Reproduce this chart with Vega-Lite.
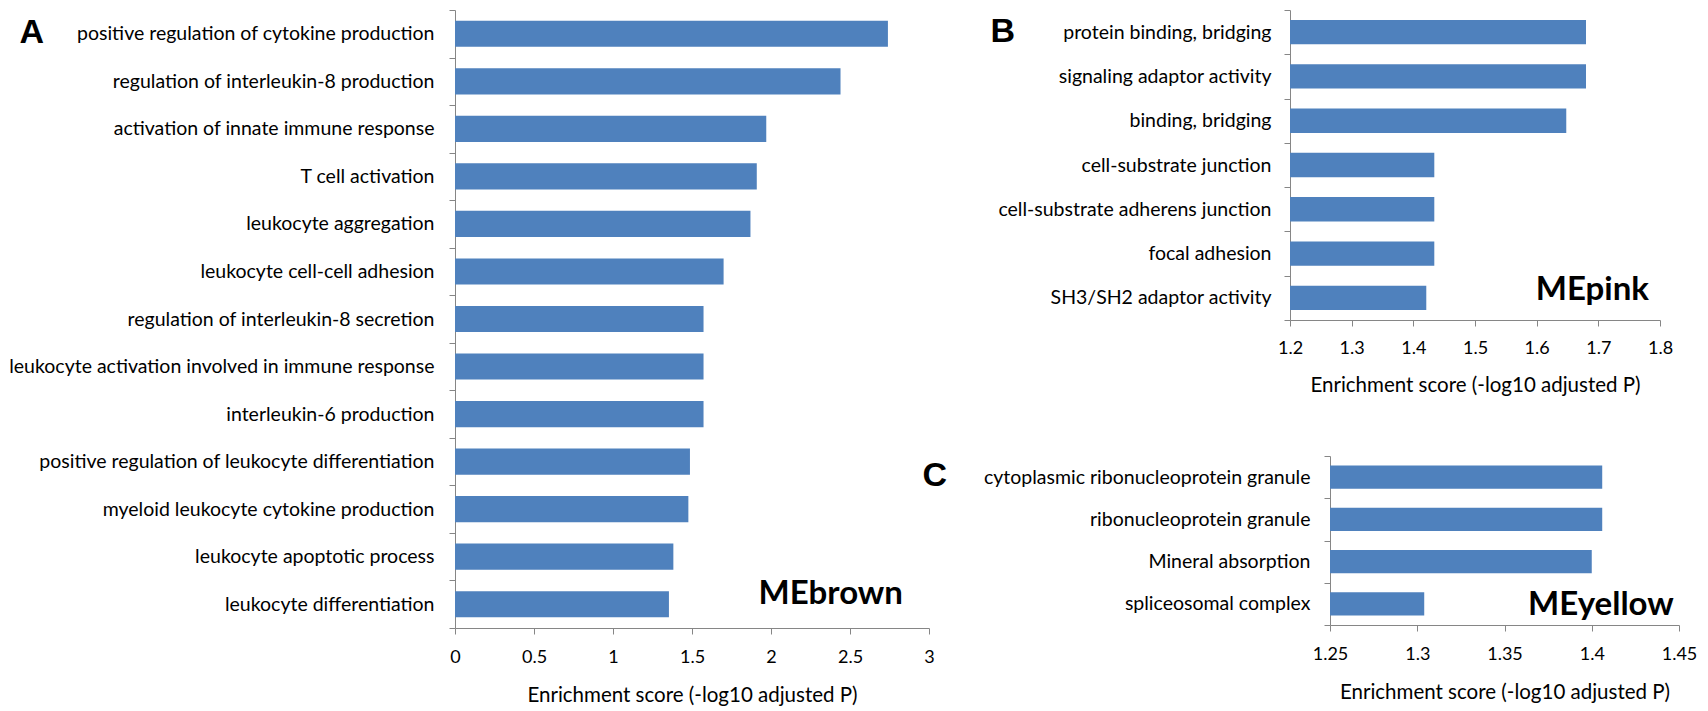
{
  "$schema": "https://vega.github.io/schema/vega-lite/v6.json",
  "padding": {"left": 8, "top": 0, "right": 0, "bottom": 0},
  "background": "white",
  "config": {
    "view": {"stroke": null},
    "axis": {
      "domainColor": "#868686", "tickColor": "#868686", "domainWidth": 1, "tickWidth": 1, "tickSize": 6,
      "labelColor": "#000000", "labelFont": "Lato", "labelFontSize": 18, "labelLimit": 700,
      "titleColor": "#000000", "titleFont": "Lato", "titleFontSize": 20.5, "titleFontWeight": "normal",
      "grid": false
    },
    "axisY": {"labelFontSize": 19.5}
  },
  "datasets": {
    "A": [
      {"term": "positive regulation of cytokine production", "score": 2.74},
      {"term": "regulation of interleukin-8 production", "score": 2.44},
      {"term": "activation of innate immune response", "score": 1.97},
      {"term": "T cell activation", "score": 1.91},
      {"term": "leukocyte aggregation", "score": 1.87},
      {"term": "leukocyte cell-cell adhesion", "score": 1.70},
      {"term": "regulation of interleukin-8 secretion", "score": 1.573},
      {"term": "leukocyte activation involved in immune response", "score": 1.573},
      {"term": "interleukin-6 production", "score": 1.573},
      {"term": "positive regulation of leukocyte differentiation", "score": 1.487},
      {"term": "myeloid leukocyte cytokine production", "score": 1.477},
      {"term": "leukocyte apoptotic process", "score": 1.382},
      {"term": "leukocyte differentiation", "score": 1.354}
    ],
    "B": [
      {"term": "protein binding, bridging", "score": 1.68},
      {"term": "signaling adaptor activity", "score": 1.68},
      {"term": "binding, bridging", "score": 1.648},
      {"term": "cell-substrate junction", "score": 1.434},
      {"term": "cell-substrate adherens junction", "score": 1.434},
      {"term": "focal adhesion", "score": 1.434},
      {"term": "SH3/SH2 adaptor activity", "score": 1.421}
    ],
    "C": [
      {"term": "cytoplasmic ribonucleoprotein granule", "score": 1.406},
      {"term": "ribonucleoprotein granule", "score": 1.406},
      {"term": "Mineral absorption", "score": 1.400},
      {"term": "spliceosomal complex", "score": 1.304}
    ]
  },
  "spacing": -13,
  "hconcat": [
    {
      "width": 474,
      "height": 618,
      "layer": [
        {
          "data": {"name": "A"},
          "mark": {"type": "bar", "color": "#4f81bd", "height": {"band": 0.55}},
          "encoding": {
            "y": {
              "field": "term", "type": "nominal", "sort": null,
              "scale": {"paddingInner": 0, "paddingOuter": 0, "domain": [
                "positive regulation of cytokine production", "regulation of interleukin-8 production",
                "activation of innate immune response", "T cell activation", "leukocyte aggregation",
                "leukocyte cell-cell adhesion", "regulation of interleukin-8 secretion",
                "leukocyte activation involved in immune response", "interleukin-6 production",
                "positive regulation of leukocyte differentiation", "myeloid leukocyte cytokine production",
                "leukocyte apoptotic process", "leukocyte differentiation"]},
              "axis": {
                "title": "A", "titleAngle": 0, "titleAlign": "left", "titleBaseline": "alphabetic",
                "titleX": -436, "titleY": 32, "titleFont": "Liberation Sans", "titleFontSize": 34, "titleFontWeight": "bold",
                "tickBand": "extent", "labelPadding": 15
              }
            },
            "x": {
              "field": "score", "type": "quantitative",
              "scale": {"domain": [0, 3], "nice": false, "zero": false},
              "axis": {"title": "Enrichment score (-log10 adjusted P)", "values": [0, 0.5, 1, 1.5, 2, 2.5, 3], "format": "~g", "labelPadding": 14, "titlePadding": 19, "labelFlush": false}
            },
            "x2": {"datum": 0}
          }
        },
        {
          "data": {"values": [{"module": "MEbrown"}]},
          "mark": {"type": "text", "align": "right", "baseline": "alphabetic", "font": "Lato", "fontSize": 33, "fontWeight": "bold", "color": "#000000"},
          "encoding": {
            "text": {"field": "module"},
            "x": {"datum": 2.835},
            "y": {"datum": "leukocyte differentiation"}
          }
        }
      ]
    },
    {
      "spacing": 50,
      "vconcat": [
        {
          "width": 370,
          "height": 310,
          "layer": [
            {
              "data": {"name": "B"},
              "mark": {"type": "bar", "color": "#4f81bd", "height": {"band": 0.55}},
              "encoding": {
                "y": {
                  "field": "term", "type": "nominal", "sort": null,
                  "scale": {"paddingInner": 0, "paddingOuter": 0, "domain": [
                    "protein binding, bridging", "signaling adaptor activity", "binding, bridging",
                    "cell-substrate junction", "cell-substrate adherens junction", "focal adhesion",
                    "SH3/SH2 adaptor activity"]},
                  "axis": {
                    "title": "B", "titleAngle": 0, "titleAlign": "left", "titleBaseline": "alphabetic",
                    "titleX": -300, "titleY": 31, "titleFont": "Liberation Sans", "titleFontSize": 34, "titleFontWeight": "bold",
                    "tickBand": "extent", "labelPadding": 13
                  }
                },
                "x": {
                  "field": "score", "type": "quantitative",
                  "scale": {"domain": [1.2, 1.8], "nice": false, "zero": false},
                  "axis": {"title": "Enrichment score (-log10 adjusted P)", "values": [1.2, 1.3, 1.4, 1.5, 1.6, 1.7, 1.8], "format": "~g", "labelPadding": 13, "titlePadding": 18, "labelFlush": false}
                },
                "x2": {"datum": 1.2}
              }
            },
            {
              "data": {"values": [{"module": "MEpink"}]},
              "mark": {"type": "text", "align": "right", "baseline": "alphabetic", "dy": 2, "font": "Lato", "fontSize": 33, "fontWeight": "bold", "color": "#000000"},
              "encoding": {
                "text": {"field": "module"},
                "x": {"datum": 1.782},
                "y": {"datum": "SH3/SH2 adaptor activity"}
              }
            }
          ]
        },
        {
          "width": 389,
          "height": 169,
          "layer": [
            {
              "data": {"name": "C"},
              "mark": {"type": "bar", "color": "#4f81bd", "height": {"band": 0.55}},
              "encoding": {
                "y": {
                  "field": "term", "type": "nominal", "sort": null,
                  "scale": {"paddingInner": 0, "paddingOuter": 0, "domain": [
                    "cytoplasmic ribonucleoprotein granule", "ribonucleoprotein granule",
                    "Mineral absorption", "spliceosomal complex"]},
                  "axis": {
                    "title": "C", "titleAngle": 0, "titleAlign": "left", "titleBaseline": "alphabetic",
                    "titleX": -408, "titleY": 29, "titleFont": "Liberation Sans", "titleFontSize": 34, "titleFontWeight": "bold",
                    "tickBand": "extent", "labelPadding": 14, "offset": -40
                  }
                },
                "x": {
                  "field": "score", "type": "quantitative",
                  "scale": {"domain": [1.25, 1.45], "nice": false, "zero": false, "range": [40, 389]},
                  "axis": {"title": "Enrichment score (-log10 adjusted P)", "values": [1.25, 1.3, 1.35, 1.4, 1.45], "format": "~g", "labelPadding": 14, "titlePadding": 19, "labelFlush": false}
                },
                "x2": {"datum": 1.25}
              }
            },
            {
              "data": {"values": [{"module": "MEyellow"}]},
              "mark": {"type": "text", "align": "right", "baseline": "alphabetic", "dy": 11, "font": "Lato", "fontSize": 33, "fontWeight": "bold", "color": "#000000"},
              "encoding": {
                "text": {"field": "module"},
                "x": {"datum": 1.447},
                "y": {"datum": "spliceosomal complex"}
              }
            }
          ]
        }
      ]
    }
  ]
}
